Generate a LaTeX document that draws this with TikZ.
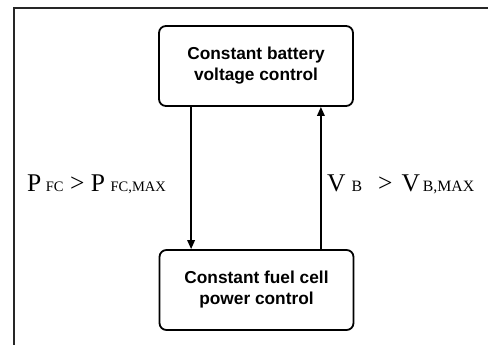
\documentclass[tikz,border=0pt]{standalone}
\usepackage{fontspec}
\setmainfont{Liberation Serif}
\newfontfamily\boxfont{Liberation Sans}
\usetikzlibrary{arrows.meta}
\newcommand{\bigS}{\fontsize{25.5}{28}\selectfont}
\newcommand{\smS}{\fontsize{14.5}{16}\selectfont}
\newcommand{\smR}{\fontsize{15.8}{17}\selectfont}
\newcommand{\twolines}[2]{\raisebox{4pt}{\begin{tabular}{@{}c@{}}#1\\#2\end{tabular}}}
\begin{document}
\begin{tikzpicture}[x=1pt,y=-1pt,
  ctrlbox/.style={draw, line width=1.8pt, rounded corners=7pt, minimum width=194pt,
    minimum height=80pt, inner sep=0pt, align=center,
    font=\boxfont\bfseries\fontsize{17.3}{20.5}\selectfont},
  arr/.style={line width=1.8pt, -{Triangle[length=9pt,width=7.5pt]}},
  cond/.style={anchor=base west, inner sep=0pt}]
\useasboundingbox (0,0) rectangle (488,345);
\fill[white] (0,0) rectangle (488,345);
\draw[line width=2.2pt, black!85] (14,345) -- (14,8) -- (488,8);
\node[ctrlbox] (top) at (256,66) {\twolines{Constant battery}{voltage control}};
\node[ctrlbox] (bot) at (256.5,290) {\raisebox{-1pt}{\twolines{Constant fuel cell}{power control}}};
\draw[arr] ([xshift=33pt]top.south west) -- ([xshift=33pt]top.south west |- bot.north);
\draw[arr] ([xshift=-33.5pt]bot.north east) -- ([xshift=-33.5pt]bot.north east |- top.south);
\node[cond] (lc) at (27,191) {\bigS P\kern4.5pt{\smS FC}\kern6.5pt>\kern6.5pt P\kern5.5pt{\smS FC,MAX}};
\node[cond] (rc) at (327,191) {\bigS V\kern6pt{\smR B}\kern16pt>\kern9pt V\kern3pt{\smR B,MAX}};
\end{tikzpicture}
\end{document}
